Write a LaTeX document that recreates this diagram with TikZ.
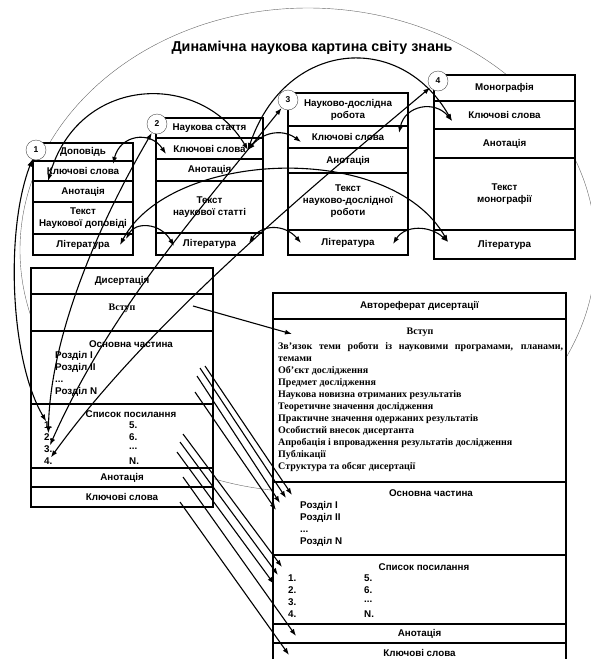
\documentclass[tikz,border=0pt]{standalone}
\usepackage{fontspec}
\setmainfont{Liberation Sans}
\newfontfamily\serifbf{Liberation Serif}
\usetikzlibrary{positioning,arrows.meta}

\begin{document}
\begin{tikzpicture}[x=1pt, y=-1pt, node distance=0pt, >={Latex[length=7pt,width=5pt]},
    row/.style = {draw, fill=white, line width=1.1pt, inner sep=0pt, outer sep=0pt, align=center, minimum width=#1, font=\fontsize{9.8}{12}\selectfont\bfseries},
    num/.style = {draw=black!70, thin, circle, fill=white, minimum size=20pt, inner sep=0pt, font=\fontsize{8.5}{10}\selectfont\bfseries},
    txt/.style = {inner sep=0pt, align=left, font=\fontsize{9.8}{12}\selectfont\bfseries},
    rom/.style = {inner sep=0pt, align=left, font=\fontsize{10}{12}\selectfont\serifbf\bfseries},
    link/.style = {<->, line width=1.1pt},
    go/.style = {->, line width=1.1pt}]
    \useasboundingbox (0,0) rectangle (591,659);

    % knowledge field
    \draw[black!60, line width=0.4pt] (308,250) ellipse [x radius=288pt, y radius=242pt];
    \node[font=\fontsize{14.3}{17}\selectfont\bfseries] (title) at (312,48) {Динамічна наукова картина світу знань};

    % publications
    \node[row=100, minimum height=18] (t1) at (83,152) {Доповідь};
    \node[row=100, minimum height=20, below=of t1] (kw1) {Ключові слова};
    \node[row=100, minimum height=21, below=of kw1] (an1) {Анотація};
    \node[row=100, minimum height=32, below=of an1] (tx1) {Текст\\Наукової доповіді};
    \node[row=100, minimum height=21, below=of tx1] (lit1) {Література};

    \node[row=107, minimum height=20] (t2) at (209.5,128) {Наукова стаття};
    \node[row=107, minimum height=21, below=of t2] (kw2) {Ключові слова};
    \node[row=107, minimum height=22, below=of kw2] (an2) {Анотація};
    \node[row=107, minimum height=52, below=of an2] (tx2) {Текст\\наукової статті};
    \node[row=107, minimum height=22, below=of tx2] (lit2) {Література};

    \node[row=120, minimum height=33] (t3) at (348,109.5) {Науково-дослідна\\робота};
    \node[row=120, minimum height=22, below=of t3] (kw3) {Ключові слова};
    \node[row=120, minimum height=25, below=of kw3] (an3) {Анотація};
    \node[row=120, minimum height=57, below=of an3] (tx3) {Текст\\науково-дослідної\\роботи};
    \node[row=120, minimum height=25, below=of tx3] (lit3) {Література};

    \node[row=141, minimum height=26] (t4) at (504.5,88) {Монографія};
    \node[row=141, minimum height=28, below=of t4] (kw4) {Ключові слова};
    \node[row=141, minimum height=29, below=of kw4] (an4) {Анотація};
    \node[row=141, minimum height=72, below=of an4] (tx4) {Текст\\монографії};
    \node[row=141, minimum height=29, below=of tx4] (lit4) {Література};

    \node[num] (c1) at (36,150) {1};
    \node[num] (c2) at (157,124) {2};
    \node[num] (c3) at (288,100) {3};
    \node[num] (c4) at (438,81) {4};

    % dissertation
    \node[row=182, minimum height=26] (d0) at (122,281) {Дисертація};
    \node[row=182, minimum height=37, below=of d0] (d1) {};
    \node[row=182, minimum height=73, below=of d1] (d2) {};
    \node[row=182, minimum height=64, below=of d2] (d3) {};
    \node[row=182, minimum height=19, below=of d3] (d4) {Анотація};
    \node[row=182, minimum height=20, below=of d4] (d5) {Ключові слова};

    \node[rom] (dintro) at (122,308) {Вступ};
    \node[txt] (dmain) at (131,344) {Основна частина};
    \node[txt, anchor=north west] (dparts) at (55,351) {Розділ I\\Розділ II\\...\\Розділ N};
    \node[txt] (dlist) at (131,414) {Список посилання};
    \node[txt, anchor=west] (r1) at (44,425) {1.};
    \node[txt, anchor=west] (r2) at (44,437) {2.};
    \node[txt, anchor=west] (r3) at (44,449) {3.};
    \node[txt, anchor=west] (r4) at (44,461) {4.};
    \node[txt, anchor=west] (r5) at (129,425) {5.};
    \node[txt, anchor=west] (r6) at (129,437) {6.};
    \node[txt, anchor=west] (r7) at (129,449) {...};
    \node[txt, anchor=west] (r8) at (129,461) {N.};

    % abstract of the dissertation
    \node[row=293, minimum height=26] (a0) at (419.5,306) {Автореферат дисертації};
    \node[row=293, minimum height=163, below=of a0] (a1) {};
    \node[row=293, minimum height=73, below=of a1] (a2) {};
    \node[row=293, minimum height=69, below=of a2] (a3) {};
    \node[row=293, minimum height=19, below=of a3] (a4) {Анотація};
    \node[row=293, minimum height=20, below=of a4] (a5) {Ключові слова};

    \node[rom] (aintro) at (420,332) {Вступ};
    \node[rom, anchor=north west] (aitems) at (278,342) {\makebox[285pt][s]{Зв’язок теми роботи із науковими програмами, планами,}\\темами\\Об’єкт дослідження\\Предмет дослідження\\Наукова новизна отриманих результатів\\Теоретичне значення дослідження\\Практичне значення одержаних результатів\\Особистий внесок дисертанта\\Апробація і впровадження результатів дослідження\\Публікації\\Структура та обсяг дисертації};
    \node[txt] (amain) at (431,493) {Основна частина};
    \node[txt, anchor=north west] (aparts) at (300,501) {Розділ I\\Розділ II\\...\\Розділ N};
    \node[txt] (alist) at (424,567) {Список посилання};
    \node[txt, anchor=west] (s1) at (288,578) {1.};
    \node[txt, anchor=west] (s2) at (288,590) {2.};
    \node[txt, anchor=west] (s3) at (288,602) {3.};
    \node[txt, anchor=west] (s4) at (288,614) {4.};
    \node[txt, anchor=west] (s5) at (364,578) {5.};
    \node[txt, anchor=west] (s6) at (364,590) {6.};
    \node[txt, anchor=west] (s7) at (364,602) {...};
    \node[txt, anchor=west] (s8) at (364,614) {N.};

    % ends of the links
    \coordinate (kw1a) at (48,181);
    \coordinate (kw1b) at (113,164);
    \coordinate (kw2a) at (166,154);
    \coordinate (kw2b) at (248,150);
    \coordinate (kw3a) at (301,142);
    \coordinate (kw3b) at (399,133);
    \coordinate (kw4a) at (452,121);
    \coordinate (lit1a) at (120,245);
    \coordinate (lit1b) at (126,239);
    \coordinate (lit2a) at (174,246);
    \coordinate (lit2b) at (249,243);
    \coordinate (lit3a) at (301,243);
    \coordinate (lit3b) at (393,244);
    \coordinate (lit4a) at (448,242);
    \coordinate (dv) at (193,306);
    \coordinate (av) at (292,334);

    \coordinate (m1s) at (205,366); \coordinate (m1e) at (292,495);
    \coordinate (m2s) at (200,368); \coordinate (m2e) at (286,498);
    \coordinate (m3s) at (197,376); \coordinate (m3e) at (280,503);
    \coordinate (m4s) at (195,392); \coordinate (m4e) at (276,510);
    \coordinate (l1s) at (183,434); \coordinate (l1e) at (282,567);
    \coordinate (l2s) at (180,442); \coordinate (l2e) at (278,575);
    \coordinate (l3s) at (177,452); \coordinate (l3e) at (274,584);
    \coordinate (n1s) at (183,477); \coordinate (n1e) at (296,636);
    \coordinate (k1s) at (180,502); \coordinate (k1e) at (289,655);

    % publications to the list of references
    \draw[link] (c1) .. controls (5,230) and (10,360) .. (r1);
    \draw[link] (c2) .. controls (95,230) and (50,340) .. (r2);
    \draw[link] (c3) .. controls (200,210) and (110,310) .. (r3);
    \draw[link] (c4) .. controls (320,180) and (150,320) .. (r4);

    % key words and literature
    \draw[link] (kw1a) .. controls (78,75) and (200,70) .. (kw2b);
    \draw[link] (kw1b) .. controls (120,135) and (150,130) .. (kw2a);
    \draw[link] (kw2b) .. controls (265,130) and (285,130) .. (kw3a);
    \draw[link] (kw2b) .. controls (285,40) and (400,30) .. (kw4a);
    \draw[link] (kw3b) .. controls (405,105) and (435,100) .. (kw4a);
    \draw[link] (lit1a) .. controls (170,150) and (390,140) .. (lit4a);
    \draw[link] (lit1b) .. controls (135,222) and (160,222) .. (lit2a);
    \draw[link] (lit2b) .. controls (262,224) and (285,224) .. (lit3a);
    \draw[link] (lit3b) .. controls (405,225) and (430,225) .. (lit4a);

    % dissertation to abstract
    \draw[go] (dv) -- (av);
    \draw[go] (m1s) -- (m1e);
    \draw[go] (m2s) -- (m2e);
    \draw[go] (m3s) -- (m3e);
    \draw[go] (m4s) -- (m4e);
    \draw[go] (l1s) -- (l1e);
    \draw[go] (l2s) -- (l2e);
    \draw[go] (l3s) -- (l3e);
    \draw[go] (n1s) -- (n1e);
    \draw[go] (k1s) -- (k1e);
\end{tikzpicture}
\end{document}
